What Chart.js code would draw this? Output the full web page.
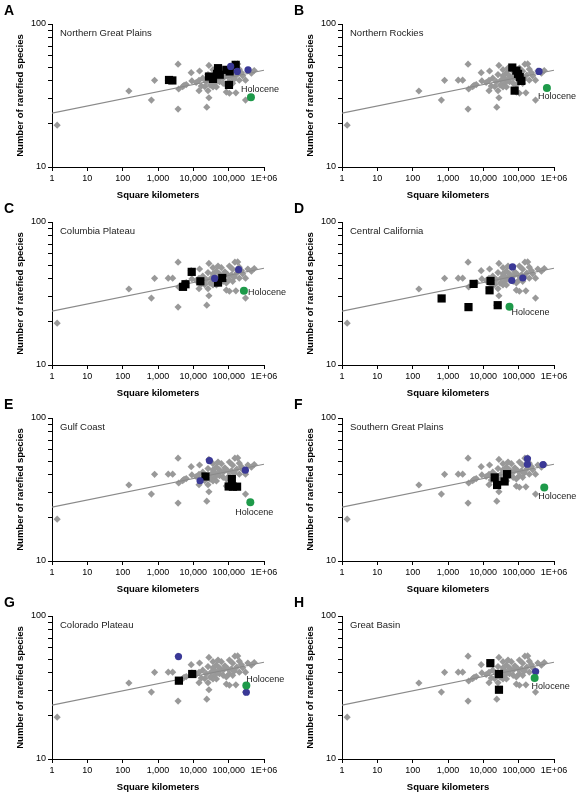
<!doctype html>
<html lang="en">

<head>
    <meta charset="UTF-8" />
    <title>Rarefied species vs area</title>
    <script src="https://cdn.jsdelivr.net/npm/chart.js"></script>
    <style>
        body { margin: 0; background: #fff; }
        #fig { position: relative; width: 580px; height: 797px; }
        .panel { position: absolute; width: 290px; height: 201px; }
    </style>
</head>

<body>
    <div id="fig"></div>

    <script>
        // axis ticks
        const xTicks = [1, 10, 100, 1000, 10000, 100000, 1000000];
        const xTickLabels = ["1", "10", "100", "1,000", "10,000", "100,000", "1E+06"];
        const yTicks = [10, 20, 30, 40, 50, 60, 70, 80, 90, 100];
        const yTickLabels = ["10", "", "", "", "", "", "", "", "", "100"];

        // all localities (gray, same in every panel)
        const allArea = [1.4, 150, 650, 800, 1950, 2600, 3700, 3700, 3850, 5000, 5500, 6300, 8700, 9100,
            15000, 14500, 14500, 16800, 27600, 27600, 24000, 26000, 23400, 32000, 36000, 45000, 50000,
            62000, 40000, 55000, 70000, 45000, 36000, 86000, 130000, 150000, 180000, 120000, 170000,
            230000, 350000, 440000, 530000, 300000, 300000, 86000, 105000, 160000, 105000, 95000, 55000,
            26000, 36000, 18500, 12000, 200000, 250000, 130000, 21000, 50000, 78000, 105000, 70000,
            30000, 40000, 145000, 200000];
        const allSpecies = [19.6, 34, 29.4, 40.4, 40.5, 40.5, 52.4, 25.4, 35.1, 36.5, 37.3, 37.7, 45.7, 40,
            46.9, 40.4, 34.2, 36.8, 51.3, 30.5, 26.2, 34.2, 39.6, 40.6, 43.4, 45.3, 49.2,
            47.9, 38.5, 39.5, 41.8, 36.3, 36.3, 37.5, 46.8, 52.4, 52.6, 42.7, 44,
            45.7, 46.9, 45.3, 47.3, 40.5, 29.4, 33.4, 32.8, 33, 39.5, 42.7, 43.4,
            44.3, 47.9, 41.8, 39, 40.5, 43.4, 38.5, 36.5, 40.6, 44.8, 49.2, 38.5,
            37.4, 41.6, 41.3, 48.3];

        // fitted power-law line, ends
        const fitArea = [1, 1000000];
        const fitSpecies = [23.8, 47.5];

        const panelLetters = ["A", "B", "C", "D", "E", "F", "G", "H"];
        const regionNames = ["Northern Great Plains", "Northern Rockies", "Columbia Plateau", "Central California",
            "Gulf Coast", "Southern Great Plains", "Colorado Plateau", "Great Basin"];

        // black squares per region
        const squareArea = [
            [2050, 2550, 27700, 36000, 50000, 47000, 56000, 86000, 107000, 158000, 102000],
            [66000, 86000, 96000, 107000, 119000, 77000],
            [5100, 6000, 9000, 15800, 50000, 66000],
            [660, 3800, 5300, 16000, 15000, 25500],
            [22000, 123000, 100000, 132000, 173000],
            [21000, 24500, 40000, 47000],
            [3900, 9300],
            [15800, 27700, 27700]
        ];
        const squareSpecies = [
            [40.6, 40.3, 42.9, 41.3, 49.1, 44.8, 44.2, 47.8, 46.6, 51.8, 37.5],
            [49.6, 47.2, 44.8, 42.5, 40, 34.2],
            [35.2, 36.7, 44.8, 38.5, 37.7, 40.6],
            [29.2, 25.4, 36.9, 38.7, 33.3, 26.2],
            [39, 37.4, 33.2, 33.1, 33.1],
            [38.4, 34, 36, 40.5],
            [35.3, 39.3],
            [46.8, 39.3, 30.5]
        ];

        // blue circles per region
        const circleArea = [
            [114000, 176000, 354000],
            [377000],
            [40000, 191000],
            [67000, 64000, 131000],
            [28500, 15500, 297000],
            [177000, 177000, 490000],
            [3800, 316000],
            [302000]
        ];
        const circleSpecies = [
            [50.5, 46.6, 47.8],
            [46.6],
            [40.3, 46.4],
            [48.5, 39, 40.6],
            [50.4, 36.4, 43.2],
            [51.8, 47.5, 47.3],
            [52, 29.3],
            [40.9]
        ];

        // Holocene point per region
        const holoceneArea = [427000, 630000, 270000, 55000, 410000, 530000, 316000, 283000];
        const holoceneSpecies = [30.7, 35.7, 33, 25.5, 25.8, 32.6, 32.7, 36.8];

        // where the "Holocene" text sits relative to its point (px)
        const holoceneLabelOffset = [[9, -8], [10, 9], [23, 2], [21, 6], [4, 10], [13, 9], [19, -6], [16, 8]];

        const colLeft = [0, 290];
        const rowTop = [0, 198, 394, 592];

        const FONT = '"Liberation Sans", Arial, sans-serif';
        Chart.defaults.font.family = FONT;
        Chart.defaults.color = "#000";

        const panelText = {
            id: "panelText",
            afterDraw(chart, args, opts) {
                const { ctx, chartArea, scales } = chart;
                const i = opts.index;
                ctx.save();
                ctx.fillStyle = "#000";
                ctx.textBaseline = "alphabetic";
                ctx.font = "bold 14px " + FONT;
                ctx.fillText(panelLetters[i], 4, 15);
                ctx.font = "9.5px " + FONT;
                ctx.fillStyle = "#222";
                ctx.fillText(regionNames[i], chartArea.left + 8, chartArea.top + 12);

                const px = scales.x.getPixelForValue(holoceneArea[i]);
                const py = scales.y.getPixelForValue(holoceneSpecies[i]);
                ctx.font = "9px " + FONT;
                ctx.textAlign = "center";
                ctx.textBaseline = "middle";
                ctx.fillText("Holocene", px + holoceneLabelOffset[i][0], py + holoceneLabelOffset[i][1]);
                ctx.restore();
            }
        };

        function pts(xs, ys) {
            return xs.map((x, k) => ({ x, y: ys[k] }));
        }

        function makePanel(i) {
            const canvas = document.createElement("canvas");
            canvas.className = "panel";
            canvas.width = 290;
            canvas.height = 201;
            canvas.style.left = colLeft[i % 2] + "px";
            canvas.style.top = rowTop[Math.floor(i / 2)] + "px";
            document.getElementById("fig").appendChild(canvas);

            new Chart(canvas, {
                type: "scatter",
                data: {
                    datasets: [
                        {
                            label: "Holocene",
                            data: pts([holoceneArea[i]], [holoceneSpecies[i]]),
                            pointStyle: "circle",
                            pointRadius: 4,
                            backgroundColor: "#1e9a4a",
                            borderWidth: 0,
                            order: 0
                        },
                        {
                            label: "circles",
                            data: pts(circleArea[i], circleSpecies[i]),
                            pointStyle: "circle",
                            pointRadius: 3.6,
                            backgroundColor: "#3a3896",
                            borderWidth: 0,
                            order: 1
                        },
                        {
                            label: "squares",
                            data: pts(squareArea[i], squareSpecies[i]),
                            pointStyle: "rect",
                            pointRadius: 5.8,
                            backgroundColor: "#000",
                            borderWidth: 0,
                            order: 2
                        },
                        {
                            label: "fit",
                            data: pts(fitArea, fitSpecies),
                            showLine: true,
                            borderColor: "#8a8a8a",
                            borderWidth: 1.2,
                            pointRadius: 0,
                            order: 3
                        },
                        {
                            label: "all",
                            data: pts(allArea, allSpecies),
                            pointStyle: "rectRot",
                            pointRadius: 3.6,
                            backgroundColor: "#999999",
                            borderWidth: 0,
                            order: 4
                        }
                    ]
                },
                options: {
                    responsive: false,
                    animation: false,
                    events: [],
                    layout: { padding: { left: 15, right: 26, top: 24, bottom: 0 } },
                    plugins: {
                        legend: { display: false },
                        tooltip: { enabled: false },
                        panelText: { index: i }
                    },
                    scales: {
                        x: {
                            type: "logarithmic",
                            min: 1,
                            max: 1000000,
                            afterBuildTicks: s => { s.ticks = xTicks.map(v => ({ value: v })); },
                            afterFit: s => { s.height = 34; },
                            ticks: {
                                autoSkip: false,
                                maxRotation: 0,
                                padding: 2,
                                font: { size: 9 },
                                callback: v => xTickLabels[xTicks.indexOf(v)]
                            },
                            grid: { drawOnChartArea: false, tickLength: 4, tickColor: "#000" },
                            border: { color: "#000", width: 1 },
                            title: { display: true, text: "Square kilometers", padding: 0, font: { size: 9.5, weight: "bold" } }
                        },
                        y: {
                            type: "logarithmic",
                            min: 10,
                            max: 100,
                            afterBuildTicks: s => { s.ticks = yTicks.map(v => ({ value: v })); },
                            afterFit: s => { s.width = 37; },
                            ticks: {
                                autoSkip: false,
                                padding: 2,
                                font: { size: 9 },
                                callback: v => yTickLabels[yTicks.indexOf(v)]
                            },
                            grid: { drawOnChartArea: false, tickLength: 4, tickColor: "#000" },
                            border: { color: "#000", width: 1 },
                            title: { display: true, text: "Number of rarefied species", padding: 0, font: { size: 9.5, weight: "bold" } }
                        }
                    }
                },
                plugins: [panelText]
            });
        }

        for (let i = 0; i < 8; i++) makePanel(i);
    </script>
</body>

</html>
